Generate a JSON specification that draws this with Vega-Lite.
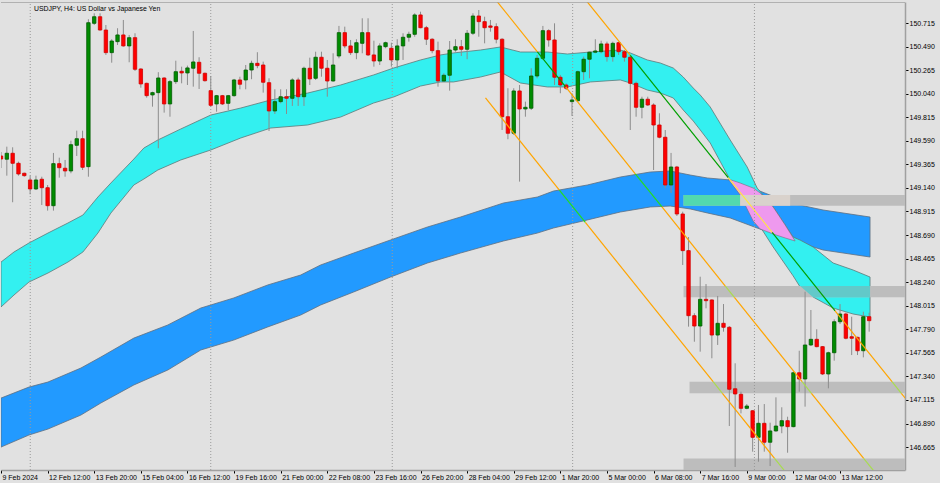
{
"$schema": "https://vega.github.io/schema/vega-lite/v6.json",
"width": 940, "height": 483,
"autosize": {"type": "fit", "contains": "padding"},
"padding": {"left": 0, "top": 2, "right": 0, "bottom": 0},
"background": "#E1E1E1",
"config": {"view": {"stroke": null}, "font": "Liberation Sans", "axis": {"labelOverlap": false}, "scale": {"continuousPadding": 0}},
"datasets": {
"wicks": [
{"bar":0,"y":149.330,"y2":149.483},{"bar":1,"y":149.257,"y2":149.534},{"bar":2,"y":149.003,"y2":149.528},{"bar":3,"y":149.257,"y2":149.391},
{"bar":4,"y":149.247,"y2":149.286},{"bar":5,"y":149.079,"y2":149.257},{"bar":6,"y":149.120,"y2":149.257},{"bar":7,"y":148.977,"y2":149.247},
{"bar":8,"y":148.923,"y2":149.168},{"bar":9,"y":148.923,"y2":149.474},{"bar":10,"y":149.238,"y2":149.429},{"bar":11,"y":149.247,"y2":149.407},
{"bar":12,"y":149.280,"y2":149.591},{"bar":13,"y":149.445,"y2":149.687},{"bar":14,"y":149.311,"y2":149.687},{"bar":15,"y":149.247,"y2":150.751},
{"bar":16,"y":150.696,"y2":150.808},{"bar":17,"y":150.642,"y2":150.808},{"bar":18,"y":150.410,"y2":150.696},{"bar":19,"y":150.336,"y2":150.560},
{"bar":20,"y":150.505,"y2":150.665},{"bar":21,"y":150.489,"y2":150.744},{"bar":22,"y":150.340,"y2":150.601},{"bar":23,"y":150.257,"y2":150.617},
{"bar":24,"y":150.097,"y2":150.283},{"bar":25,"y":150.002,"y2":150.145},{"bar":26,"y":149.916,"y2":150.059},{"bar":27,"y":149.519,"y2":150.245},
{"bar":28,"y":149.859,"y2":150.197},{"bar":29,"y":149.820,"y2":150.171},{"bar":30,"y":150.133,"y2":150.355},{"bar":31,"y":150.139,"y2":150.298},
{"bar":32,"y":150.123,"y2":150.308},{"bar":33,"y":150.107,"y2":150.639},{"bar":34,"y":150.085,"y2":150.388},{"bar":35,"y":150.155,"y2":150.241},
{"bar":36,"y":149.916,"y2":150.209},{"bar":37,"y":149.868,"y2":150.028},{"bar":38,"y":149.932,"y2":150.028},{"bar":39,"y":149.884,"y2":150.028},
{"bar":40,"y":150.011,"y2":150.181},{"bar":41,"y":150.082,"y2":150.202},{"bar":42,"y":150.082,"y2":150.314},{"bar":43,"y":150.178,"y2":150.355},
{"bar":44,"y":150.283,"y2":150.436},{"bar":45,"y":150.050,"y2":150.346},{"bar":46,"y":149.684,"y2":150.187},{"bar":47,"y":149.846,"y2":150.082},
{"bar":48,"y":149.948,"y2":150.082},{"bar":49,"y":149.846,"y2":150.082},{"bar":50,"y":149.923,"y2":150.187},{"bar":51,"y":149.923,"y2":150.193},
{"bar":52,"y":149.923,"y2":150.298},{"bar":53,"y":150.123,"y2":150.384},{"bar":54,"y":150.171,"y2":150.441},{"bar":55,"y":150.202,"y2":150.441},
{"bar":56,"y":150.011,"y2":150.362},{"bar":57,"y":150.155,"y2":150.426},{"bar":58,"y":150.378,"y2":150.687},{"bar":59,"y":150.474,"y2":150.680},
{"bar":60,"y":150.410,"y2":150.553},{"bar":61,"y":150.369,"y2":150.560},{"bar":62,"y":150.426,"y2":150.760},{"bar":63,"y":150.400,"y2":150.760},
{"bar":64,"y":150.298,"y2":150.546},{"bar":65,"y":150.314,"y2":150.521},{"bar":66,"y":150.474,"y2":150.537},{"bar":67,"y":150.298,"y2":150.527},
{"bar":68,"y":150.283,"y2":150.560},{"bar":69,"y":150.362,"y2":150.617},{"bar":70,"y":150.537,"y2":150.632},{"bar":71,"y":150.584,"y2":150.808},
{"bar":72,"y":150.665,"y2":150.823},{"bar":73,"y":150.505,"y2":150.687},{"bar":74,"y":150.426,"y2":150.569},{"bar":75,"y":150.107,"y2":150.537},
{"bar":76,"y":150.155,"y2":150.235},{"bar":77,"y":150.069,"y2":150.543},{"bar":78,"y":150.441,"y2":150.560},{"bar":79,"y":150.400,"y2":150.553},
{"bar":80,"y":150.369,"y2":150.648},{"bar":81,"y":150.601,"y2":150.808},{"bar":82,"y":150.584,"y2":150.839},{"bar":83,"y":150.521,"y2":150.775},
{"bar":84,"y":150.632,"y2":150.744},{"bar":85,"y":150.521,"y2":150.712},{"bar":86,"y":149.693,"y2":150.569},{"bar":87,"y":149.605,"y2":150.092},
{"bar":88,"y":149.646,"y2":150.092},{"bar":89,"y":149.200,"y2":150.123},{"bar":90,"y":149.820,"y2":149.964},{"bar":91,"y":149.884,"y2":150.283},
{"bar":92,"y":150.187,"y2":150.410},{"bar":93,"y":150.362,"y2":150.687},{"bar":94,"y":150.489,"y2":150.655},{"bar":95,"y":150.123,"y2":150.712},
{"bar":96,"y":150.044,"y2":150.219},{"bar":97,"y":150.075,"y2":150.139},{"bar":98,"y":149.827,"y2":150.044},{"bar":99,"y":149.964,"y2":150.260},
{"bar":100,"y":150.171,"y2":150.394},{"bar":101,"y":150.187,"y2":150.441},{"bar":102,"y":150.426,"y2":150.560},{"bar":103,"y":150.426,"y2":150.546},
{"bar":104,"y":150.346,"y2":150.537},{"bar":105,"y":150.346,"y2":150.537},{"bar":106,"y":150.410,"y2":150.537},{"bar":107,"y":150.346,"y2":150.457},
{"bar":108,"y":149.693,"y2":150.410},{"bar":109,"y":149.820,"y2":150.155},{"bar":110,"y":149.805,"y2":150.011},{"bar":111,"y":149.923,"y2":150.011},
{"bar":112,"y":149.311,"y2":149.948},{"bar":113,"y":149.614,"y2":149.853},{"bar":114,"y":149.137,"y2":149.693},{"bar":115,"y":149.092,"y2":149.474},
{"bar":116,"y":148.872,"y2":149.350},{"bar":117,"y":148.404,"y2":148.913},{"bar":118,"y":147.815,"y2":148.671},{"bar":119,"y":147.671,"y2":147.943},
{"bar":120,"y":147.576,"y2":148.292},{"bar":121,"y":147.990,"y2":148.222},{"bar":122,"y":147.513,"y2":148.076},{"bar":123,"y":147.640,"y2":148.108},
{"bar":124,"y":147.767,"y2":148.031},{"bar":125,"y":146.866,"y2":147.821},{"bar":126,"y":146.475,"y2":147.465},{"bar":127,"y":146.987,"y2":147.194},
{"bar":128,"y":147.026,"y2":147.076},{"bar":129,"y":146.621,"y2":147.019},{"bar":130,"y":146.525,"y2":147.067},{"bar":131,"y":146.621,"y2":147.076},
{"bar":132,"y":146.484,"y2":146.898},{"bar":133,"y":146.812,"y2":147.140},{"bar":134,"y":146.797,"y2":147.045},{"bar":135,"y":146.611,"y2":146.955},
{"bar":136,"y":146.854,"y2":147.385},{"bar":137,"y":147.194,"y2":147.585},{"bar":138,"y":147.051,"y2":148.149},{"bar":139,"y":147.630,"y2":147.974},
{"bar":140,"y":147.618,"y2":147.790},{"bar":141,"y":147.353,"y2":147.630},{"bar":142,"y":147.226,"y2":147.576},{"bar":143,"y":147.490,"y2":147.885},
{"bar":144,"y":147.840,"y2":148.031},{"bar":145,"y":147.694,"y2":147.948},{"bar":146,"y":147.544,"y2":147.910},{"bar":147,"y":147.544,"y2":147.719},
{"bar":148,"y":147.522,"y2":147.958},{"bar":149,"y":147.767,"y2":147.948}
],
"bodies": [
{"bar":0,"y":149.445,"y2":149.416},{"bar":1,"y":149.414,"y2":149.471},{"bar":2,"y":149.471,"y2":149.375},{"bar":3,"y":149.375,"y2":149.273},
{"bar":4,"y":149.280,"y2":149.257},{"bar":5,"y":149.216,"y2":149.130},{"bar":6,"y":149.130,"y2":149.216},{"bar":7,"y":149.223,"y2":149.142},
{"bar":8,"y":149.142,"y2":148.970},{"bar":9,"y":148.970,"y2":149.372},{"bar":10,"y":149.372,"y2":149.333},{"bar":11,"y":149.328,"y2":149.302},
{"bar":12,"y":149.302,"y2":149.553},{"bar":13,"y":149.547,"y2":149.610},{"bar":14,"y":149.610,"y2":149.337},{"bar":15,"y":149.343,"y2":150.718},
{"bar":16,"y":150.712,"y2":150.775},{"bar":17,"y":150.775,"y2":150.648},{"bar":18,"y":150.648,"y2":150.432},{"bar":19,"y":150.432,"y2":150.543},
{"bar":20,"y":150.537,"y2":150.601},{"bar":21,"y":150.601,"y2":150.496},{"bar":22,"y":150.496,"y2":150.575},{"bar":23,"y":150.575,"y2":150.273},
{"bar":24,"y":150.276,"y2":150.133},{"bar":25,"y":150.139,"y2":150.021},{"bar":26,"y":150.028,"y2":150.050},{"bar":27,"y":150.050,"y2":150.190},
{"bar":28,"y":150.190,"y2":149.942},{"bar":29,"y":149.942,"y2":150.155},{"bar":30,"y":150.155,"y2":150.250},{"bar":31,"y":150.254,"y2":150.238},
{"bar":32,"y":150.238,"y2":150.286},{"bar":33,"y":150.283,"y2":150.343},{"bar":34,"y":150.340,"y2":150.235},{"bar":35,"y":150.235,"y2":150.164},
{"bar":36,"y":150.069,"y2":149.929},{"bar":37,"y":149.942,"y2":150.021},{"bar":38,"y":150.021,"y2":149.942},{"bar":39,"y":149.948,"y2":150.021},
{"bar":40,"y":150.021,"y2":150.171},{"bar":41,"y":150.171,"y2":150.130},{"bar":42,"y":150.171,"y2":150.266},{"bar":43,"y":150.266,"y2":150.330},
{"bar":44,"y":150.330,"y2":150.308},{"bar":45,"y":150.314,"y2":150.149},{"bar":46,"y":150.145,"y2":149.875},{"bar":47,"y":149.875,"y2":149.964},
{"bar":48,"y":149.964,"y2":150.011},{"bar":49,"y":150.011,"y2":149.996},{"bar":50,"y":149.996,"y2":150.171},{"bar":51,"y":150.171,"y2":150.011},
{"bar":52,"y":150.011,"y2":150.283},{"bar":53,"y":150.283,"y2":150.181},{"bar":54,"y":150.187,"y2":150.388},{"bar":55,"y":150.388,"y2":150.283},
{"bar":56,"y":150.283,"y2":150.161},{"bar":57,"y":150.161,"y2":150.314},{"bar":58,"y":150.400,"y2":150.623},{"bar":59,"y":150.623,"y2":150.496},
{"bar":60,"y":150.496,"y2":150.432},{"bar":61,"y":150.432,"y2":150.527},{"bar":62,"y":150.521,"y2":150.623},{"bar":63,"y":150.623,"y2":150.410},
{"bar":64,"y":150.410,"y2":150.352},{"bar":65,"y":150.352,"y2":150.496},{"bar":66,"y":150.489,"y2":150.527},{"bar":67,"y":150.474,"y2":150.362},
{"bar":68,"y":150.362,"y2":150.496},{"bar":69,"y":150.496,"y2":150.579},{"bar":70,"y":150.579,"y2":150.607},{"bar":71,"y":150.607,"y2":150.792},
{"bar":72,"y":150.792,"y2":150.670},{"bar":73,"y":150.670,"y2":150.560},{"bar":74,"y":150.560,"y2":150.451},{"bar":75,"y":150.451,"y2":150.161},
{"bar":76,"y":150.161,"y2":150.216},{"bar":77,"y":150.216,"y2":150.457},{"bar":78,"y":150.457,"y2":150.489},{"bar":79,"y":150.489,"y2":150.464},
{"bar":80,"y":150.464,"y2":150.617},{"bar":81,"y":150.617,"y2":150.782},{"bar":82,"y":150.782,"y2":150.728},{"bar":83,"y":150.728,"y2":150.670},
{"bar":84,"y":150.687,"y2":150.674},{"bar":85,"y":150.680,"y2":150.560},{"bar":86,"y":150.560,"y2":149.820},{"bar":87,"y":149.820,"y2":149.662},
{"bar":88,"y":149.662,"y2":150.066},{"bar":89,"y":150.066,"y2":149.894},{"bar":90,"y":149.894,"y2":149.910},{"bar":91,"y":149.901,"y2":150.209},
{"bar":92,"y":150.209,"y2":150.378},{"bar":93,"y":150.378,"y2":150.642},{"bar":94,"y":150.642,"y2":150.553},{"bar":95,"y":150.553,"y2":150.197},
{"bar":96,"y":150.197,"y2":150.123},{"bar":97,"y":150.123,"y2":150.092},{"bar":98,"y":149.964,"y2":149.980},{"bar":99,"y":149.973,"y2":150.250},
{"bar":100,"y":150.250,"y2":150.369},{"bar":101,"y":150.369,"y2":150.436},{"bar":102,"y":150.436,"y2":150.448},{"bar":103,"y":150.441,"y2":150.515},
{"bar":104,"y":150.515,"y2":150.394},{"bar":105,"y":150.394,"y2":150.521},{"bar":106,"y":150.527,"y2":150.441},{"bar":107,"y":150.441,"y2":150.388},
{"bar":108,"y":150.388,"y2":150.139},{"bar":109,"y":150.139,"y2":149.910},{"bar":110,"y":149.910,"y2":149.987},{"bar":111,"y":149.987,"y2":149.932},
{"bar":112,"y":149.932,"y2":149.741},{"bar":113,"y":149.741,"y2":149.624},{"bar":114,"y":149.624,"y2":149.168},{"bar":115,"y":149.168,"y2":149.340},
{"bar":116,"y":149.340,"y2":148.891},{"bar":117,"y":148.891,"y2":148.541},{"bar":118,"y":148.541,"y2":147.920},{"bar":119,"y":147.920,"y2":147.821},
{"bar":120,"y":147.821,"y2":148.076},{"bar":121,"y":148.076,"y2":148.063},{"bar":122,"y":148.070,"y2":147.735},{"bar":123,"y":147.735,"y2":147.847},
{"bar":124,"y":147.847,"y2":147.809},{"bar":125,"y":147.809,"y2":147.217},{"bar":126,"y":147.222,"y2":147.172},{"bar":127,"y":147.169,"y2":147.035},
{"bar":128,"y":147.035,"y2":147.057},{"bar":129,"y":147.012,"y2":146.758},{"bar":130,"y":146.758,"y2":146.892},{"bar":131,"y":146.892,"y2":146.711},
{"bar":132,"y":146.711,"y2":146.819},{"bar":133,"y":146.819,"y2":146.866},{"bar":134,"y":146.866,"y2":146.917},{"bar":135,"y":146.917,"y2":146.860},
{"bar":136,"y":146.860,"y2":147.375},{"bar":137,"y":147.375,"y2":147.315},{"bar":138,"y":147.315,"y2":147.640},{"bar":139,"y":147.640,"y2":147.694},
{"bar":140,"y":147.694,"y2":147.624},{"bar":141,"y":147.624,"y2":147.363},{"bar":142,"y":147.363,"y2":147.566},{"bar":143,"y":147.566,"y2":147.862},
{"bar":144,"y":147.862,"y2":147.936},{"bar":145,"y":147.936,"y2":147.704},{"bar":146,"y":147.719,"y2":147.704},{"bar":147,"y":147.713,"y2":147.585},
{"bar":148,"y":147.585,"y2":147.910},{"bar":149,"y":147.910,"y2":147.872}
],
"bands": [
{"band":"cyan","bar":0,"y":148.432,"y2":148.003},
{"band":"cyan","bar":2.23,"y":148.528,"y2":148.117},
{"band":"cyan","bar":4.80,"y":148.614,"y2":148.241},
{"band":"cyan","bar":8.06,"y":148.709,"y2":148.327},
{"band":"cyan","bar":11.49,"y":148.805,"y2":148.432},
{"band":"cyan","bar":14.06,"y":148.881,"y2":148.528},
{"band":"cyan","bar":16.63,"y":149.053,"y2":148.709},
{"band":"cyan","bar":18.86,"y":149.187,"y2":148.900},
{"band":"cyan","bar":22.80,"y":149.416,"y2":149.168},
{"band":"cyan","bar":24.52,"y":149.521,"y2":149.225},
{"band":"cyan","bar":26.92,"y":149.598,"y2":149.311},
{"band":"cyan","bar":30.86,"y":149.703,"y2":149.407},
{"band":"cyan","bar":36.00,"y":149.836,"y2":149.502},
{"band":"cyan","bar":41.15,"y":149.903,"y2":149.617},
{"band":"cyan","bar":46.29,"y":149.980,"y2":149.712},
{"band":"cyan","bar":52.63,"y":150.046,"y2":149.741},
{"band":"cyan","bar":58.29,"y":150.123,"y2":149.817},
{"band":"cyan","bar":63.95,"y":150.219,"y2":149.951},
{"band":"cyan","bar":67.38,"y":150.285,"y2":150.008},
{"band":"cyan","bar":72.00,"y":150.362,"y2":150.113},
{"band":"cyan","bar":75.43,"y":150.410,"y2":150.152},
{"band":"cyan","bar":77.66,"y":150.429,"y2":150.152},
{"band":"cyan","bar":82.29,"y":150.457,"y2":150.199},
{"band":"cyan","bar":85.72,"y":150.486,"y2":150.247},
{"band":"cyan","bar":89.15,"y":150.438,"y2":150.142},
{"band":"cyan","bar":93.78,"y":150.438,"y2":150.104},
{"band":"cyan","bar":97.20,"y":150.419,"y2":150.104},
{"band":"cyan","bar":101.15,"y":150.438,"y2":150.152},
{"band":"cyan","bar":106.29,"y":150.457,"y2":150.171},
{"band":"cyan","bar":108.01,"y":150.429,"y2":150.142},
{"band":"cyan","bar":110.92,"y":150.362,"y2":150.075},
{"band":"cyan","bar":113.15,"y":150.333,"y2":150.047},
{"band":"cyan","bar":115.38,"y":150.285,"y2":149.999},
{"band":"cyan","bar":117.09,"y":150.199,"y2":149.884},
{"band":"cyan","bar":118.81,"y":150.094,"y2":149.779},
{"band":"cyan","bar":120.01,"y":150.027,"y2":149.693},
{"band":"cyan","bar":121.72,"y":149.913,"y2":149.569},
{"band":"cyan","bar":125.15,"y":149.598,"y2":149.216},
{"band":"cyan","bar":128.06,"y":149.340,"y2":148.986},
{"band":"cyan","bar":129.78,"y":149.139,"y2":148.814},
{"band":"cyan","bar":132.52,"y":148.958,"y2":148.576},
{"band":"cyan","bar":135.95,"y":148.671,"y2":148.300},
{"band":"cyan","bar":137.15,"y":148.642,"y2":148.194},
{"band":"cyan","bar":139.38,"y":148.576,"y2":148.098},
{"band":"cyan","bar":142.81,"y":148.423,"y2":147.993},
{"band":"cyan","bar":146.24,"y":148.356,"y2":147.936},
{"band":"cyan","bar":149.15,"y":148.289,"y2":147.907},
{"band":"blue","bar":0,"y":147.133,"y2":146.665},
{"band":"blue","bar":4.80,"y":147.238,"y2":146.780},
{"band":"blue","bar":8.06,"y":147.286,"y2":146.837},
{"band":"blue","bar":13.72,"y":147.420,"y2":146.971},
{"band":"blue","bar":17.14,"y":147.525,"y2":147.086},
{"band":"blue","bar":22.80,"y":147.706,"y2":147.258},
{"band":"blue","bar":28.63,"y":147.831,"y2":147.401},
{"band":"blue","bar":34.29,"y":147.993,"y2":147.592},
{"band":"blue","bar":39.95,"y":148.089,"y2":147.687},
{"band":"blue","bar":45.77,"y":148.213,"y2":147.812},
{"band":"blue","bar":51.43,"y":148.308,"y2":147.926},
{"band":"blue","bar":54.86,"y":148.404,"y2":148.022},
{"band":"blue","bar":60.52,"y":148.518,"y2":148.146},
{"band":"blue","bar":66.86,"y":148.643,"y2":148.289},
{"band":"blue","bar":73.20,"y":148.767,"y2":148.423},
{"band":"blue","bar":78.86,"y":148.862,"y2":148.518},
{"band":"blue","bar":86.23,"y":148.996,"y2":148.633},
{"band":"blue","bar":92.06,"y":149.053,"y2":148.709},
{"band":"blue","bar":94.81,"y":149.110,"y2":148.757},
{"band":"blue","bar":100.63,"y":149.168,"y2":148.834},
{"band":"blue","bar":106.29,"y":149.244,"y2":148.910},
{"band":"blue","bar":111.43,"y":149.292,"y2":148.958},
{"band":"blue","bar":114.86,"y":149.302,"y2":148.967},
{"band":"blue","bar":118.29,"y":149.263,"y2":148.939},
{"band":"blue","bar":121.21,"y":149.235,"y2":148.901},
{"band":"blue","bar":125.15,"y":149.216,"y2":148.853},
{"band":"blue","bar":129.78,"y":149.120,"y2":148.757},
{"band":"blue","bar":135.44,"y":148.996,"y2":148.643},
{"band":"blue","bar":141.09,"y":148.929,"y2":148.547},
{"band":"blue","bar":149.15,"y":148.862,"y2":148.480}
],
"pink": [
{"bar":124.81,"y":149.225,"y2":149.225},
{"bar":126.86,"y":149.187,"y2":149.072},
{"bar":129.09,"y":149.139,"y2":148.824},
{"bar":130.29,"y":149.092,"y2":148.748},
{"bar":132.52,"y":148.958,"y2":148.700},
{"bar":134.58,"y":148.786,"y2":148.662},
{"bar":136.29,"y":148.633,"y2":148.633}
],
"zones": [
{"id":"r1","bar":117.14,"bar2":160,"y":149.072,"y2":148.970},
{"id":"r2","bar":117.14,"bar2":160,"y":148.203,"y2":148.095},
{"id":"r3","bar":118.17,"bar2":160,"y":147.289,"y2":147.178},
{"id":"r4","bar":117.14,"bar2":160,"y":146.557,"y2":146.446}
],
"overlaps": [
{"id":"t1","kind":"zone_blue","bar":117.14,"y":149.072,"y2":148.970},
{"id":"t1","kind":"zone_blue","bar":126.86,"y":149.072,"y2":148.970},
{"id":"t2","kind":"zone_pink","bar":126.86,"y":149.072,"y2":148.970},
{"id":"t2","kind":"zone_pink","bar":135.44,"y":149.072,"y2":148.970},
{"id":"c1","kind":"zone_cyan","bar":137.15,"y":148.203,"y2":148.203},
{"id":"c1","kind":"zone_cyan","bar":139.38,"y":148.203,"y2":148.095},
{"id":"c1","kind":"zone_cyan","bar":149.15,"y":148.203,"y2":148.095}
],
"grid": [
{"bar":5.02,"y":146.446,"y2":150.9156},
{"bar":36.0,"y":146.446,"y2":150.9156},
{"bar":67.15,"y":146.446,"y2":150.9156},
{"bar":98.11,"y":146.446,"y2":150.9156},
{"bar":129.31,"y":146.446,"y2":150.9156}
],
"channel": [
{"seg":"1a","zone":"plain","bar":99.95,"y":150.963},
{"seg":"1a","zone":"plain","bar":108.01,"y":150.405},
{"seg":"1b","zone":"cyan","bar":108.01,"y":150.405},
{"seg":"1b","zone":"cyan","bar":124.81,"y":149.239},
{"seg":"1c","zone":"pink","bar":124.81,"y":149.239},
{"seg":"1c","zone":"pink","bar":132.35,"y":148.716},
{"seg":"1d","zone":"cyan","bar":132.35,"y":148.716},
{"seg":"1d","zone":"cyan","bar":143.15,"y":147.966},
{"seg":"1e","zone":"plain","bar":143.15,"y":147.966},
{"seg":"1e","zone":"plain","bar":152.92,"y":147.289},
{"seg":"1f","zone":"gray","bar":152.92,"y":147.289},
{"seg":"1f","zone":"gray","bar":154.52,"y":147.178},
{"seg":"1g","zone":"plain","bar":154.52,"y":147.178},
{"seg":"1g","zone":"plain","bar":156.01,"y":147.075},
{"seg":"3a","zone":"plain","bar":83.15,"y":151.058},
{"seg":"3a","zone":"plain","bar":92.06,"y":150.440},
{"seg":"3b","zone":"cyan","bar":92.06,"y":150.440},
{"seg":"3b","zone":"cyan","bar":96.91,"y":150.104},
{"seg":"3c","zone":"plain","bar":96.91,"y":150.104},
{"seg":"3c","zone":"plain","bar":108.86,"y":149.275},
{"seg":"3d","zone":"blue","bar":108.86,"y":149.275},
{"seg":"3d","zone":"blue","bar":113.44,"y":148.958},
{"seg":"3e","zone":"plain","bar":113.44,"y":148.958},
{"seg":"3e","zone":"plain","bar":124.31,"y":148.203},
{"seg":"3f","zone":"gray","bar":124.31,"y":148.203},
{"seg":"3f","zone":"gray","bar":125.87,"y":148.095},
{"seg":"3g","zone":"plain","bar":125.87,"y":148.095},
{"seg":"3g","zone":"plain","bar":137.49,"y":147.289},
{"seg":"3h","zone":"gray","bar":137.49,"y":147.289},
{"seg":"3h","zone":"gray","bar":139.09,"y":147.178},
{"seg":"3i","zone":"plain","bar":139.09,"y":147.178},
{"seg":"3i","zone":"plain","bar":148.05,"y":146.557},
{"seg":"3j","zone":"gray","bar":148.05,"y":146.557},
{"seg":"3j","zone":"gray","bar":150.87,"y":146.363},
{"seg":"2a","zone":"plain","bar":83.15,"y":149.999},
{"seg":"2a","zone":"plain","bar":95.83,"y":149.119},
{"seg":"2b","zone":"blue","bar":95.83,"y":149.119},
{"seg":"2b","zone":"blue","bar":100.29,"y":148.810},
{"seg":"2c","zone":"plain","bar":100.29,"y":148.810},
{"seg":"2c","zone":"plain","bar":122.22,"y":147.289},
{"seg":"2d","zone":"gray","bar":122.22,"y":147.289},
{"seg":"2d","zone":"gray","bar":123.81,"y":147.178},
{"seg":"2e","zone":"plain","bar":123.81,"y":147.178},
{"seg":"2e","zone":"plain","bar":132.76,"y":146.557},
{"seg":"2f","zone":"gray","bar":132.76,"y":146.557},
{"seg":"2f","zone":"gray","bar":135.44,"y":146.372}
],
"frame": [{"bar":0,"bar2":160,"y":150.9156}],
"caption": [{"bar":5.66,"y":150.849,"label":"USDJPY, H4:  US Dollar vs Japanese Yen"}]
},
"encoding": {
"x": {"field": "bar", "type": "quantitative", "title": null, "scale": {"domain": [0, 155.15], "nice": false, "zero": false, "padding": 0},
"axis": {"orient": "bottom", "title": null, "grid": false, "values": [0,8,16,24,32,40,48,56,64,72,80,88,96,104,112,120,128,136,144],
"labelExpr": "['9 Feb 2024','12 Feb 12:00','13 Feb 20:00','15 Feb 04:00','16 Feb 12:00','19 Feb 16:00','21 Feb 00:00','22 Feb 08:00','23 Feb 16:00','26 Feb 20:00','28 Feb 04:00','29 Feb 12:00','1 Mar 20:00','5 Mar 00:00','6 Mar 08:00','7 Mar 16:00','9 Mar 00:00','12 Mar 04:00','13 Mar 12:00'][round(datum.value/8)]",
"tickSize": 3, "tickColor": "#000000", "tickWidth": 1, "domainColor": "#A0A0A0", "domainWidth": 1.5,
"labelAlign": "left", "labelBaseline": "top", "labelPadding": 0, "labelOffset": 1, "labelFont": "Liberation Sans", "labelFontSize": 7, "labelColor": "#000000",
"labelOverlap": false, "labelFlush": false, "labelBound": false, "minExtent": 13, "maxExtent": 13}},
"y": {"field": "y", "type": "quantitative", "title": null, "scale": {"domain": [146.446, 150.9156], "nice": false, "zero": false, "padding": 0},
"axis": {"orient": "right", "title": null, "grid": false, "values": [146.665,146.89,147.115,147.34,147.565,147.79,148.015,148.24,148.465,148.69,148.915,149.14,149.365,149.59,149.815,150.04,150.265,150.49,150.715],
"format": ".3f", "tickSize": 3, "tickColor": "#000000", "tickWidth": 1, "domainColor": "#A0A0A0", "domainWidth": 1.5,
"labelPadding": 1, "labelFont": "Liberation Sans", "labelFontSize": 7, "labelColor": "#000000", "labelOverlap": false, "labelBound": false, "labelFlush": false, "labelSeparation": 0, "minExtent": 35, "maxExtent": 35}}
},
"layer": [
{
"data": {"name": "bands"},
"transform": [{"filter": "datum.band == 'blue'"}],
"mark": {"type": "area", "color": "#229AFF", "stroke": "#5E6E80", "strokeWidth": 0.8, "opacity": 1, "clip": true},
"encoding": {"y2": {"field": "y2"}}
},
{
"data": {"name": "bands"},
"transform": [{"filter": "datum.band == 'cyan'"}],
"mark": {"type": "area", "color": "#33F0F0", "stroke": "#5E7878", "strokeWidth": 0.8, "opacity": 1, "clip": true},
"encoding": {"y2": {"field": "y2"}}
},
{
"data": {"name": "pink"},
"mark": {"type": "area", "color": "#EE99EE", "stroke": "#7A6A7A", "strokeWidth": 0.6, "opacity": 1, "clip": true},
"encoding": {"y2": {"field": "y2"}}
},
{
"data": {"name": "zones"},
"mark": {"type": "rect", "color": "#BDBDBD", "clip": true},
"encoding": {"x2": {"field": "bar2"}, "y2": {"field": "y2"}}
},
{
"data": {"name": "overlaps"},
"mark": {"type": "area", "opacity": 1, "clip": true},
"encoding": {
"y2": {"field": "y2"},
"detail": {"field": "id"},
"fill": {"field": "kind", "type": "nominal", "scale": {"domain": ["zone_blue", "zone_pink", "zone_cyan"], "range": ["#52D9AE", "#D9D2CC", "#62C9C9"]}, "legend": null}
}
},
{
"data": {"name": "grid"},
"mark": {"type": "rule", "color": "#9A9A9A", "strokeWidth": 1, "strokeDash": [1, 2], "clip": true},
"encoding": {"y2": {"field": "y2"}}
},
{
"data": {"name": "wicks"},
"mark": {"type": "rule", "color": "#8C8C8C", "strokeWidth": 1, "clip": true},
"encoding": {"y2": {"field": "y2"}}
},
{
"data": {"name": "bodies"},
"mark": {"type": "bar", "size": 3.4, "strokeWidth": 0.8, "clip": true},
"encoding": {
"y2": {"field": "y2"},
"fill": {"condition": {"test": "datum.y2 >= datum.y", "value": "#008C00"}, "value": "#FF0000"},
"stroke": {"condition": {"test": "datum.y2 >= datum.y", "value": "#005C00"}, "value": "#D00000"}
}
},
{
"data": {"name": "channel"},
"mark": {"type": "line", "strokeWidth": 1.2, "clip": true},
"encoding": {
"detail": {"field": "seg"},
"stroke": {"field": "zone", "type": "nominal", "scale": {"domain": ["plain", "cyan", "blue", "pink", "gray"], "range": ["#FFA500", "#00A000", "#22DD22", "#FFE840", "#A8DC50"]}, "legend": null}
}
},
{
"data": {"name": "frame"},
"mark": {"type": "rule", "color": "#A0A0A0", "strokeWidth": 1.5, "clip": true},
"encoding": {"x2": {"field": "bar2"}}
},
{
"data": {"name": "caption"},
"mark": {"type": "text", "align": "left", "baseline": "middle", "fontSize": 6.9, "font": "Liberation Sans", "color": "#000000"},
"encoding": {"text": {"field": "label"}}
}
]
}
